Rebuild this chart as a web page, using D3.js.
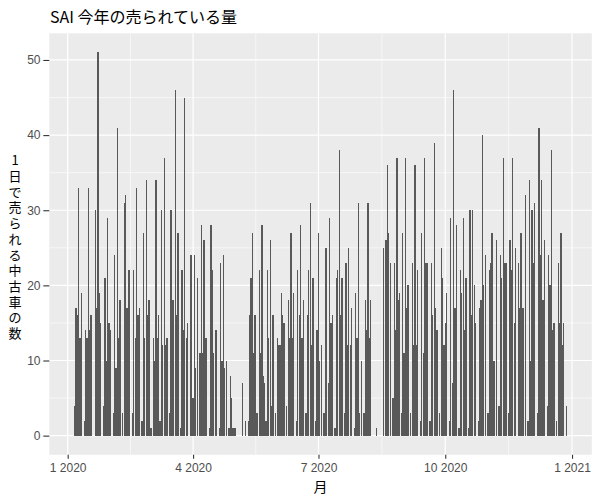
<!DOCTYPE html>
<html>
<head>
<meta charset="utf-8">
<script src="https://cdn.jsdelivr.net/npm/d3@7"></script>
<style>
  body { margin: 0; background: #ffffff; }
  text { font-family: "Liberation Sans", "Noto Sans CJK JP", sans-serif; }
  .cjk { font-family: "Noto Sans CJK JP", sans-serif; }
</style>
</head>
<body>
<svg id="chart" width="600" height="500"></svg>
<script>
// daily counts for 2020, one array per month
const year = 2020;
const jan = [0,0,0,0,0,4,17,16,33,13,19,0,2,14,13,33,14,16,0,0,30,17,51,19,15,0,4,21,10,29,15];
const feb = [14,0,3,24,9,41,13,18,0,3,31,32,17,22,22,0,3,22,13,33,16,17,0,2,27,13,34,16,18];
const mar = [1,1,13,10,34,13,16,2,30,12,37,12,13,0,3,30,18,18,46,16,27,0,1,22,14,45,13,15,0,24,24];
const apr = [5,24,9,21,0,11,28,11,26,13,13,0,1,28,22,11,14,14,0,1,23,10,24,9,10,0,1,8,5,1];
const may = [1,1,0,0,0,0,7,0,2,0,2,16,21,27,11,16,3,3,22,11,28,8,7,2,22,13,26,4,16,0,3];
const jun = [13,12,12,19,16,15,0,4,18,13,27,13,19,0,2,22,16,28,13,18,0,3,16,22,31,12,21,0,2,14];
const jul = [27,10,12,0,3,25,25,7,29,15,16,0,1,21,22,38,16,21,0,3,23,12,25,12,17,0,1,19,13,31,3];
const aug = [10,0,3,18,14,31,13,18,0,0,0,1,0,0,0,0,25,0,26,36,27,23,0,5,23,14,37,18,19,3,27];
const sep = [11,37,17,20,0,3,23,12,36,12,22,0,2,27,11,37,23,23,0,2,23,16,39,17,14,0,3,25,21,12];
const oct = [15,19,0,2,29,7,46,17,28,0,1,22,19,29,14,21,0,1,30,16,30,20,15,0,2,17,18,40,20,24,0];
const nov = [3,22,23,27,10,10,26,0,4,24,21,37,23,23,0,3,26,22,37,15,25,0,23,17,27,17,17,32,0,2];
const dec = [34,10,30,23,31,0,3,41,24,34,18,26,0,4,24,20,38,14,15,0,2,23,15,27,12,15,0,4,0,0,0];

const yTicks = [0, 10, 20, 30, 40, 50];
const yMinorTicks = [5, 15, 25, 35, 45];
const xTickDates = ['2020-01-01', '2020-04-01', '2020-07-01', '2020-10-01', '2021-01-01'];
const xMinorDates = ['2020-02-15T12:00', '2020-05-16T12:00', '2020-08-16', '2020-11-16'];

const title = 'SAI 今年の売られている量';
const yTitle = '1日で売られる中古車の数';
const xTitle = '月';

const svg = d3.select('#chart');
const panel = { left: 49.3, right: 591.8, top: 33.3, bottom: 454.8 };
const DAY = 864e5;

// only days with sales make it into the table, like a count table would
const rows = [jan, feb, mar, apr, may, jun, jul, aug, sep, oct, nov, dec]
    .flatMap((month, m) => month.map((n, i) => ({ date: new Date(Date.UTC(year, m, i + 1)), n })))
    .filter(d => d.n > 0);

const toDate = s => new Date(s + (s.length > 10 ? 'Z' : 'T00:00Z'));

// ggplot style 5% expansion around the bar extents
const x0 = d3.min(rows, d => +d.date) - 0.45 * DAY;
const x1 = d3.max(rows, d => +d.date) + 0.45 * DAY;
const xPad = (x1 - x0) * 0.05;
const x = d3.scaleUtc()
    .domain([new Date(x0 - xPad), new Date(x1 + xPad)])
    .range([panel.left, panel.right]);

const yMax = d3.max(rows, d => d.n);
const y = d3.scaleLinear()
    .domain([-yMax * 0.05, yMax * 1.05])
    .range([panel.bottom, panel.top]);

// panel
svg.append('rect')
    .attr('x', panel.left)
    .attr('y', panel.top)
    .attr('width', panel.right - panel.left)
    .attr('height', panel.bottom - panel.top)
    .attr('fill', '#ebebeb');

const grid = svg.append('g').attr('stroke', '#ffffff');

grid.selectAll('line.y-minor')
    .data(yMinorTicks)
    .enter()
    .append('line')
    .attr('class', 'y-minor')
    .attr('x1', panel.left).attr('x2', panel.right)
    .attr('y1', d => y(d)).attr('y2', d => y(d))
    .attr('stroke-width', 0.6);

grid.selectAll('line.x-minor')
    .data(xMinorDates.map(toDate))
    .enter()
    .append('line')
    .attr('class', 'x-minor')
    .attr('y1', panel.top).attr('y2', panel.bottom)
    .attr('x1', d => x(d)).attr('x2', d => x(d))
    .attr('stroke-width', 0.6);

grid.selectAll('line.y-major')
    .data(yTicks)
    .enter()
    .append('line')
    .attr('class', 'y-major')
    .attr('x1', panel.left).attr('x2', panel.right)
    .attr('y1', d => y(d)).attr('y2', d => y(d))
    .attr('stroke-width', 1.2);

grid.selectAll('line.x-major')
    .data(xTickDates.map(toDate))
    .enter()
    .append('line')
    .attr('class', 'x-major')
    .attr('y1', panel.top).attr('y2', panel.bottom)
    .attr('x1', d => x(d)).attr('x2', d => x(d))
    .attr('stroke-width', 1.2);

// bars, 0.9 day wide
svg.append('g')
    .attr('shape-rendering', 'crispEdges')
    .selectAll('rect.bar')
    .data(rows)
    .enter()
    .append('rect')
    .attr('class', 'bar')
    .attr('x', d => x(new Date(+d.date - 0.45 * DAY)))
    .attr('width', d => x(new Date(+d.date + 0.45 * DAY)) - x(new Date(+d.date - 0.45 * DAY)))
    .attr('y', d => y(d.n))
    .attr('height', d => y(0) - y(d.n))
    .attr('fill', '#595959');

// axes
const yAxis = svg.append('g')
    .attr('transform', `translate(${panel.left},0)`)
    .call(d3.axisLeft(y).tickValues(yTicks).tickSize(6).tickPadding(2.8));

const xAxis = svg.append('g')
    .attr('transform', `translate(0,${panel.bottom})`)
    .call(d3.axisBottom(x)
        .tickValues(xTickDates.map(toDate))
        .tickFormat(d => `${d.getUTCMonth() + 1} ${d.getUTCFullYear()}`)
        .tickSize(4)
        .tickPadding(5));

[yAxis, xAxis].forEach(axis => {
    axis.select('.domain').remove();
    axis.selectAll('.tick line').attr('stroke', '#333333').attr('stroke-width', 1.1);
    axis.selectAll('.tick text')
        .attr('fill', '#4d4d4d')
        .style('font-size', '12px')
        .style('font-family', '"Liberation Sans", sans-serif');
});

// titles
svg.append('text')
    .attr('class', 'cjk')
    .attr('x', 50)
    .attr('y', 23)
    .attr('font-size', 16)
    .attr('fill', '#000000')
    .text(title);

svg.append('text')
    .attr('class', 'cjk')
    .attr('x', (panel.left + panel.right) / 2)
    .attr('y', 492)
    .attr('text-anchor', 'middle')
    .attr('font-size', 14)
    .attr('fill', '#000000')
    .text(xTitle);

// y title stacked one character per line, kept as one text element
svg.append('text')
    .attr('class', 'cjk')
    .attr('y', 160.7)
    .attr('text-anchor', 'middle')
    .attr('font-size', 13)
    .attr('fill', '#000000')
    .selectAll('tspan')
    .data(Array.from(yTitle))
    .enter()
    .append('tspan')
    .attr('x', 15)
    .attr('dy', (d, i) => i === 0 ? '0.36em' : 15.7)
    .text(d => d);
</script>
</body>
</html>
